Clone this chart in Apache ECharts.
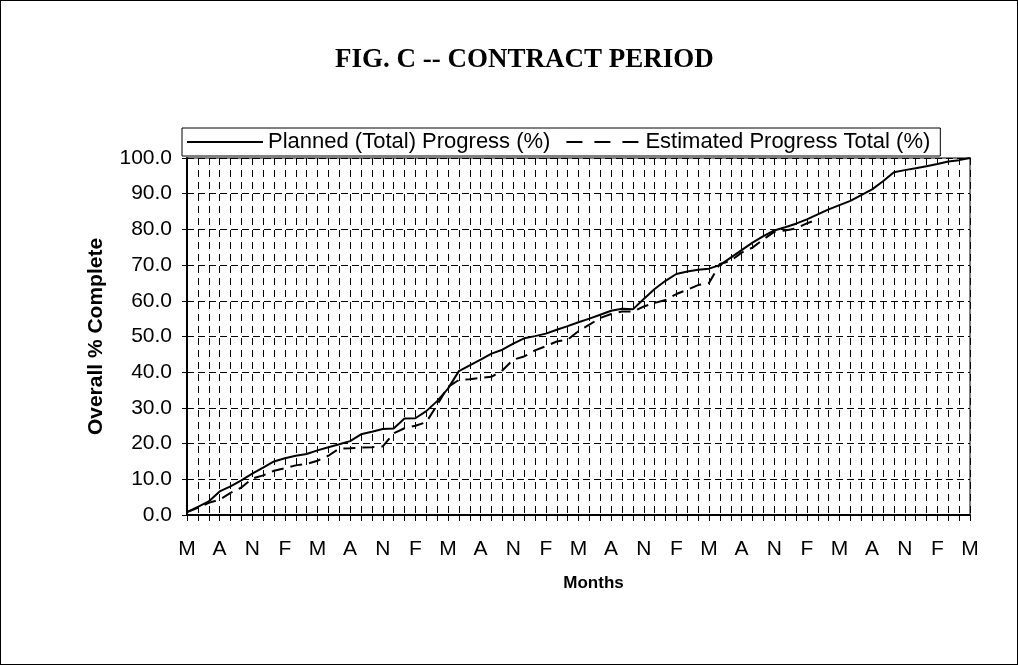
<!DOCTYPE html>
<html>
<head>
<meta charset="utf-8">
<script src="https://cdn.jsdelivr.net/npm/echarts@6/dist/echarts.min.js"></script>
<style>
html,body{margin:0;padding:0;background:#fff;}
#c{width:1018px;height:665px;box-sizing:border-box;border:1px solid #000;}
</style>
</head>
<body>
<div id="c"></div>
<script>
// Months from May (73 monthly points); labels shown every 3rd month
const monthInitials = ['M','J','J','A','S','O','N','D','J','F','M','A'];
const categories = [];
for (let i = 0; i < 73; i++) categories.push(monthInitials[i % 12]);

const planned = [
  0.8, 2.3, 3.8, 6.6, 8.0, 9.7, 11.6, 13.3, 15.0, 15.9,
  16.6, 17.1, 18.1, 19.0, 19.8, 20.7, 22.6, 23.3, 24.1, 24.2,
  27.0, 27.1, 29.1, 31.9, 35.4, 40.3, 41.9, 43.5, 45.2, 46.3,
  48.0, 49.5, 50.1, 50.8, 51.9, 52.9, 54.0, 55.0, 56.1, 57.2,
  57.8, 57.6, 60.5, 63.3, 65.6, 67.5, 68.2, 68.7, 69.0, 70.0,
  72.1, 74.2, 76.3, 78.1, 79.7, 80.6, 81.6, 82.8, 84.2, 85.6,
  86.8, 88.0, 89.6, 91.2, 93.5, 96.0, 96.6, 97.1, 97.7, 98.3,
  99.0, 99.4, 100.0
];
const estimated = [
  0.8, 2.0, 3.4, 4.3, 6.2, 7.7, 10.2, 11.1, 12.4, 13.1,
  13.9, 14.3, 15.2, 16.6, 18.6, 18.7, 18.9, 19.0, 19.2, 22.9,
  24.3, 25.0, 26.0, 30.8, 35.9, 37.8, 38.0, 38.4, 38.7, 40.5,
  43.5, 44.4, 46.1, 47.3, 48.6, 49.1, 51.5, 53.3, 55.2, 56.3,
  57.0, 57.0, 58.4, 59.4, 60.2, 61.9, 63.1, 64.4, 65.0, 70.3,
  71.2, 73.5, 74.9, 77.2, 79.3, 79.7, 80.3, 81.7, 82.8
];
const seriesNames = ['Planned (Total) Progress (%)', 'Estimated Progress Total (%)'];

const chart = echarts.init(document.getElementById('c'), null, {renderer: 'canvas'});
const sans = 'Liberation Sans, Arial, sans-serif';
chart.setOption({
  animation: false,
  backgroundColor: '#fff',
  title: {
    text: 'FIG. C -- CONTRACT PERIOD',
    left: 329, top: 41,
    textStyle: {fontFamily: 'Liberation Serif, Times New Roman, serif', fontWeight: 'bold', fontSize: 27, color: '#000'}
  },
  legend: {
    left: 181, top: 127,
    itemWidth: 76, itemHeight: 2, itemGap: 16,
    padding: [3, 10, 3, 5],
    borderColor: '#000', borderWidth: 1,
    textStyle: {fontFamily: sans, fontSize: 22, color: '#000'},
    data: [
      {name: seriesNames[0], icon: 'path://M0,0h76v2h-76z'},
      {name: seriesNames[1], icon: 'path://M0,0h16v2h-16z M28,0h16v2h-16z M56,0h16v2h-16z'}
    ]
  },
  grid: {left: 186, right: 47, top: 157, bottom: 149, show: true, borderColor: '#808080', borderWidth: 2},
  xAxis: {
    type: 'category', data: categories, boundaryGap: false,
    name: 'Months', nameLocation: 'middle', nameGap: 60,
    nameTextStyle: {fontFamily: sans, fontWeight: 'bold', fontSize: 17, color: '#000', padding: [0, 0, 0, 30]},
    axisLine: {lineStyle: {color: '#000', width: 2}},
    axisTick: {interval: 0, length: 6, lineStyle: {color: '#000'}},
    axisLabel: {interval: 2, margin: 24, fontFamily: sans, fontSize: 21, color: '#000'},
    splitLine: {show: true, interval: 0, lineStyle: {color: '#000', width: 1, type: [7, 5]}}
  },
  yAxis: {
    type: 'value', min: 0, max: 100, interval: 10,
    name: 'Overall % Complete', nameLocation: 'middle', nameGap: 80,
    nameTextStyle: {fontFamily: sans, fontWeight: 'bold', fontSize: 21, color: '#000'},
    axisLine: {show: true, lineStyle: {color: '#000', width: 2}},
    axisTick: {show: true, length: 5, lineStyle: {color: '#000'}},
    axisLabel: {margin: 15, fontFamily: sans, fontSize: 21, color: '#000', formatter: v => v.toFixed(1)},
    splitLine: {show: true, lineStyle: {color: '#000', width: 1, type: [7, 4]}}
  },
  series: [
    {name: seriesNames[0], type: 'line', data: planned, showSymbol: false, symbol: 'none',
     lineStyle: {color: '#000', width: 2, type: 'solid'}, itemStyle: {color: '#000'}},
    {name: seriesNames[1], type: 'line', data: estimated, showSymbol: false, symbol: 'none',
     lineStyle: {color: '#000', width: 2, type: [12, 7]}, itemStyle: {color: '#000'}}
  ]
});
</script>
</body>
</html>
